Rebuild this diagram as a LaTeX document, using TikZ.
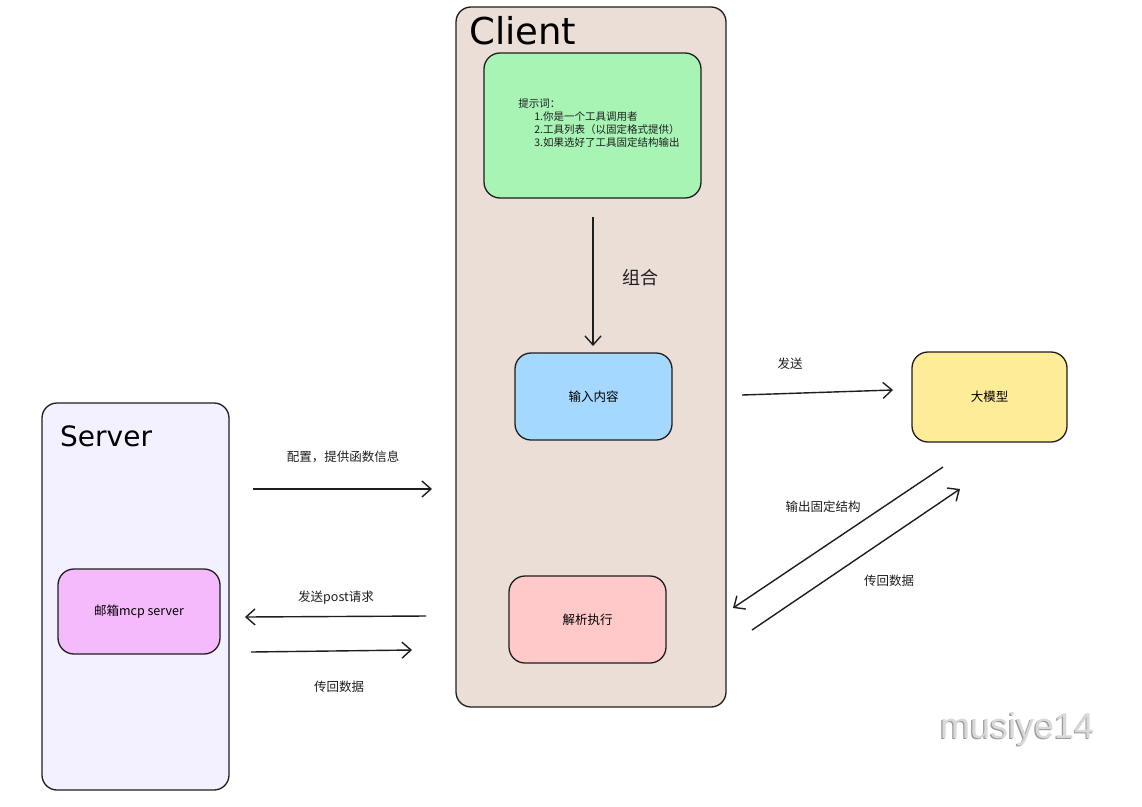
\documentclass[tikz,border=0pt]{standalone}
\usepackage{fontspec}
\setmainfont{DejaVu Sans}
\newfontfamily\cjk{Noto Sans CJK SC}
\newfontfamily\titlefont{DejaVu Sans}
\newfontfamily\wmfont{Liberation Sans}
\usetikzlibrary{arrows.meta}
\definecolor{clientfill}{HTML}{EBDED7}
\definecolor{serverfill}{HTML}{F3F0FF}
\definecolor{greenfill}{HTML}{A7F4B5}
\definecolor{bluefill}{HTML}{A5D8FF}
\definecolor{pinkfill}{HTML}{FFC9C9}
\definecolor{yellowfill}{HTML}{FFEC99}
\definecolor{magentafill}{HTML}{F5BAFB}
\definecolor{inkc}{HTML}{1E1E1E}
\tikzset{
  container/.style={draw=inkc, line width=1.3pt, rounded corners=15pt, inner sep=0pt, outer sep=0pt},
  box/.style={draw=inkc, line width=1.3pt, rounded corners=16pt, inner sep=0pt, outer sep=0pt, font=\cjk\fontsize{12.5}{14}\selectfont},
  conn/.style={draw=inkc, line width=1.4pt, -{Straight Barb[length=9pt,width=16pt,line width=1.4pt]}},
  lbl/.style={font=\cjk\fontsize{12.5}{14}\selectfont, text=inkc, inner sep=0pt},
  ttl/.style={font=\titlefont, text=black, inner sep=0pt, anchor=west},
}
\begin{document}
\begin{tikzpicture}[x=1pt,y=-1pt]
\useasboundingbox (0,0) rectangle (1142,806);
\fill[white] (0,0) rectangle (1142,806);

% containers
\node[container, fill=clientfill, minimum width=270pt, minimum height=700pt] (client) at (591,357) {};
\node[ttl, font=\titlefont\fontsize{37}{40}\selectfont] (clienttitle) at (469,31) {Client};
\node[container, fill=serverfill, minimum width=187pt, minimum height=387pt] (server) at (135.5,596.5) {};
\node[ttl, font=\titlefont\fontsize{28}{32}\selectfont] (servertitle) at (60,436) {Server};

% boxes
\node[box, fill=greenfill, minimum width=217pt, minimum height=145pt] (prompt) at (592.5,125.5) {};
\node[font=\cjk\fontsize{10.5}{13.3}\selectfont, align=left, inner sep=0pt, text=inkc] (prompttext) at (599,123)
  {提示词：\\\hspace*{16pt}1.你是一个工具调用者\\\hspace*{16pt}2.工具列表（以固定格式提供）\\\hspace*{16pt}3.如果选好了工具固定结构输出};
\node[box, fill=bluefill, minimum width=157pt, minimum height=87pt] (input) at (593.5,396.5) {输入内容};
\node[box, fill=pinkfill, minimum width=157pt, minimum height=87pt] (parse) at (587.5,619.5) {解析执行};
\node[box, fill=yellowfill, minimum width=155pt, minimum height=90pt] (llm) at (989.5,397) {大模型};
\node[box, fill=magentafill, minimum width=162pt, minimum height=85pt] (mail) at (139,611.5) {邮箱mcp server};

% connector endpoints
\coordinate (c1s) at (593,217); \coordinate (c1e) at (593,346);
\coordinate (c2s) at (742,395); \coordinate (c2e) at (893,390);
\coordinate (c3s) at (943,467); \coordinate (c3e) at (733,608);
\coordinate (c4s) at (752,630); \coordinate (c4e) at (960,489);
\coordinate (c5s) at (253,489); \coordinate (c5e) at (432,489);
\coordinate (c6s) at (426,616); \coordinate (c6e) at (245,617);
\coordinate (c7s) at (251,652); \coordinate (c7e) at (412,650);

\draw[conn] (c1s) -- (c1e);
\draw[conn] (c2s) -- (c2e);
\draw[conn] (c3s) -- (c3e);
\draw[conn] (c4s) -- (c4e);
\draw[conn] (c5s) -- (c5e);
\draw[conn] (c6s) -- (c6e);
\draw[conn] (c7s) -- (c7e);

% labels
\node[lbl, font=\cjk\fontsize{18}{20}\selectfont] (l1) at (640,278) {组合};
\node[lbl] (l2) at (790,364) {发送};
\node[lbl] (l3) at (823,507) {输出固定结构};
\node[lbl] (l4) at (889,581) {传回数据};
\node[lbl] (l5) at (343,457) {配置，提供函数信息};
\node[lbl] (l6) at (336,598) {发送post请求};
\node[lbl] (l7) at (339,687) {传回数据};

% watermark
\node[font=\wmfont\fontsize{36}{40}\selectfont, text=gray!80, inner sep=0pt] (wmshadow) at (1016,730) {musiye14};
\node[font=\wmfont\fontsize{36}{40}\selectfont, text=gray!30, inner sep=0pt] (wm) at (1017.2,728.8) {musiye14};
\end{tikzpicture}
\end{document}
